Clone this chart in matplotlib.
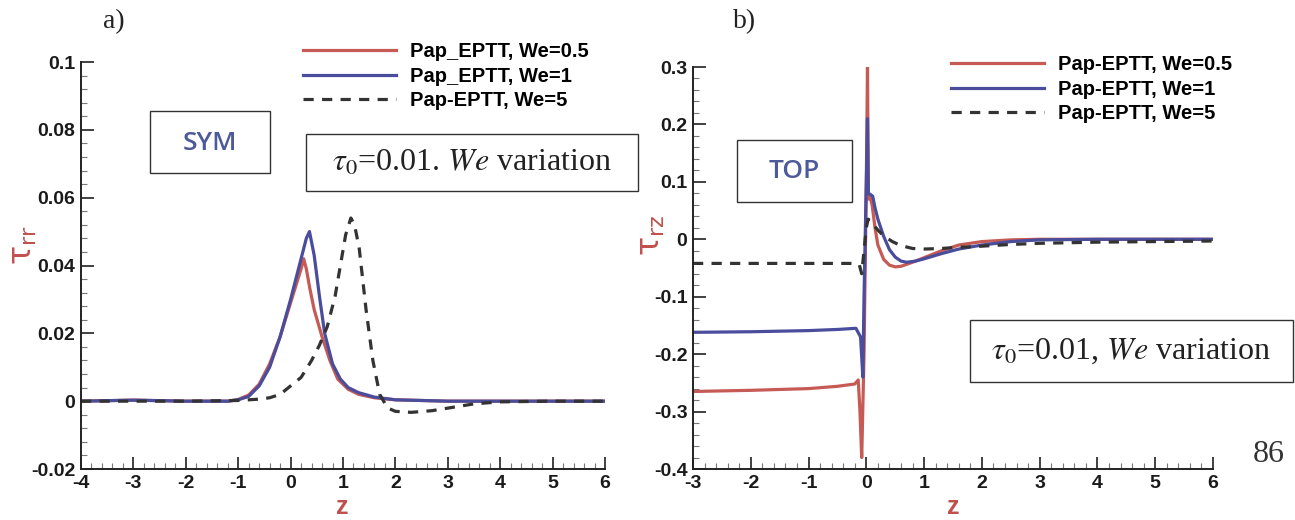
import matplotlib
matplotlib.use("Agg")
import matplotlib.pyplot as plt
from matplotlib.patches import Rectangle
from matplotlib.ticker import AutoMinorLocator, FixedLocator

# ---- panel a: tau_rr along SYM line ----
za_05 = [-4, -3, -2, -1.2, -1.0, -0.8, -0.6, -0.4, -0.2, 0.0, 0.1, 0.2, 0.25, 0.3, 0.37,
         0.45, 0.6, 0.75, 0.9, 1.1, 1.3, 1.6, 2.0, 3, 4, 5, 6]
ta_05 = [0, 0.0003, 0, 0, 0.0005, 0.0018, 0.005, 0.011, 0.019, 0.029, 0.034, 0.039, 0.042,
         0.039, 0.033, 0.027, 0.019, 0.012, 0.0065, 0.0035, 0.002, 0.001, 0.0004, 0, 0, 0, 0]

za_1 = [-4, -3, -2, -1.2, -1.0, -0.8, -0.6, -0.4, -0.2, 0.0, 0.1, 0.2, 0.3, 0.36, 0.45, 0.55,
        0.65, 0.8, 0.95, 1.1, 1.3, 1.6, 2.0, 3, 4, 5, 6]
ta_1 = [0, 0.0003, 0, 0, 0.0004, 0.0014, 0.0045, 0.010, 0.019, 0.030, 0.036, 0.042, 0.048,
        0.050, 0.043, 0.031, 0.020, 0.011, 0.0065, 0.004, 0.0025, 0.0012, 0.0004, 0, 0, 0, 0]

za_5 = [-4, -3, -2, -1, -0.6, -0.4, -0.2, 0.0, 0.2, 0.4, 0.55, 0.7, 0.85, 0.95, 1.05, 1.15,
        1.22, 1.31, 1.44, 1.57, 1.70, 1.85, 2.0, 2.3, 2.7, 3.1, 3.5, 4, 5, 6]
ta_5 = [0, 0, 0, 0.0002, 0.0006, 0.001, 0.002, 0.0045, 0.007, 0.012, 0.0165, 0.022, 0.031,
        0.040, 0.049, 0.054, 0.052, 0.045, 0.027, 0.012, 0.002, -0.002, -0.003, -0.0033,
        -0.0028, -0.0018, -0.0008, -0.0002, 0, 0]

# ---- panel b: tau_rz along TOP line ----
zb_05 = [-3, -2, -1, -0.5, -0.2, -0.14, -0.11, -0.08, -0.04, 0.0, 0.02, 0.035, 0.06, 0.1,
         0.15, 0.2, 0.3, 0.4, 0.5, 0.6, 0.8, 1.0, 1.3, 1.6, 2.0, 2.5, 3, 4, 5, 6]
tb_05 = [-0.265, -0.263, -0.26, -0.256, -0.252, -0.245, -0.30, -0.38, -0.2, 0.1, 0.30, 0.07,
         0.075, 0.06, 0.02, -0.01, -0.035, -0.045, -0.048, -0.047, -0.040, -0.032, -0.020,
         -0.010, -0.004, -0.001, 0, 0, 0, 0]

zb_1 = [-3, -2, -1, -0.5, -0.18, -0.1, -0.06, -0.04, 0.0, 0.02, 0.035, 0.07, 0.11, 0.15, 0.2,
        0.3, 0.4, 0.5, 0.6, 0.7, 0.85, 1.0, 1.3, 1.6, 2.0, 2.5, 3, 4, 5, 6]
tb_1 = [-0.162, -0.161, -0.159, -0.157, -0.155, -0.17, -0.24, -0.1, 0.1, 0.21, 0.08, 0.078,
        0.075, 0.055, 0.035, 0.005, -0.018, -0.031, -0.038, -0.04, -0.038, -0.034, -0.025,
        -0.017, -0.010, -0.004, -0.001, 0, 0, 0]

zb_5 = [-3, -2, -1, -0.5, -0.2, -0.12, -0.08, -0.04, 0.0, 0.03, 0.06, 0.1, 0.2, 0.3, 0.45,
        0.6, 0.8, 1.0, 1.3, 1.6, 2.0, 2.5, 3, 4, 5, 6]
tb_5 = [-0.042, -0.042, -0.042, -0.042, -0.042, -0.045, -0.06, -0.02, 0.02, 0.035, 0.033,
        0.028, 0.016, 0.006, -0.004, -0.011, -0.016, -0.017, -0.016, -0.014, -0.012, -0.009,
        -0.007, -0.005, -0.004, -0.003]

xticks_a = [-4, -3, -2, -1, 0, 1, 2, 3, 4, 5, 6]
yticks_a = [-0.02, 0, 0.02, 0.04, 0.06, 0.08, 0.1]
ylabels_a = ["-0.02", "0", "0.02", "0.04", "0.06", "0.08", "0.1"]
xticks_b = [-3, -2, -1, 0, 1, 2, 3, 4, 5, 6]
yticks_b = [-0.4, -0.3, -0.2, -0.1, 0, 0.1, 0.2, 0.3]
ylabels_b = ["-0.4", "-0.3", "-0.2", "-0.1", "0", "0.1", "0.2", "0.3"]

labels_a = ["Pap_EPTT, We=0.5", "Pap_EPTT, We=1", "Pap-EPTT, We=5"]
labels_b = ["Pap-EPTT, We=0.5", "Pap-EPTT, We=1", "Pap-EPTT, We=5"]

RED = "#c65a55"
BLUE = "#4a4c9c"
DASH = "#333333"
LABEL_RED = "#c0504d"
TAG_BLUE = "#4d5a9a"

plt.rcParams["font.family"] = ["Liberation Sans", "DejaVu Sans"]
plt.rcParams["mathtext.fontset"] = "stix"

W, H = 1295, 520
fig = plt.figure(figsize=(W / 100, H / 100), dpi=100)


def px_rect(x0, y0, x1, y1):
    # pixel box (top-left origin) -> figure fraction [l, b, w, h]
    return [x0 / W, 1 - y1 / H, (x1 - x0) / W, (y1 - y0) / H]


def style_axes(ax, xt, yt, yl, xlim, ylim):
    ax.set_xlim(*xlim)
    ax.set_ylim(*ylim)
    ax.spines["top"].set_visible(False)
    ax.spines["right"].set_visible(False)
    for s in ("left", "bottom"):
        ax.spines[s].set_linewidth(1.4)
        ax.spines[s].set_color("#222222")
    ax.xaxis.set_major_locator(FixedLocator(xt))
    ax.yaxis.set_major_locator(FixedLocator(yt))
    ax.set_yticklabels(yl)
    ax.set_xticklabels([str(v) for v in xt])
    ax.xaxis.set_minor_locator(AutoMinorLocator(5))
    ax.yaxis.set_minor_locator(AutoMinorLocator(5))
    ax.tick_params(which="major", direction="in", length=9, width=1.3, color="#333333",
                   labelsize=14, pad=4)
    ax.tick_params(which="minor", direction="in", length=4, width=0.8, color="#777777")
    for lab in ax.get_xticklabels() + ax.get_yticklabels():
        lab.set_fontweight("bold")
        lab.set_color("#1a1a1a")


def box(x0, y0, x1, y1):
    fig.patches.append(Rectangle((x0 / W, 1 - y1 / H), (x1 - x0) / W, (y1 - y0) / H,
                                 transform=fig.transFigure, fill=False,
                                 edgecolor="#333333", linewidth=1.0))


def put(x, y, s, **kw):
    fig.text(x / W, 1 - y / H, s, **kw)


lw = 2.3
dash = (0, (3.2, 2.6))
leg_kw = dict(bbox_transform=fig.transFigure, frameon=False, borderpad=0, borderaxespad=0,
              handlelength=4.6, handletextpad=0.7, labelspacing=0.28,
              prop={"size": 14.5, "weight": "bold"}, loc="upper left")

# panel a
ax1 = fig.add_axes(px_rect(81, 62, 605, 469))
ax1.plot(za_05, ta_05, color=RED, lw=lw, label=labels_a[0])
ax1.plot(za_1, ta_1, color=BLUE, lw=lw, label=labels_a[1])
ax1.plot(za_5, ta_5, color=DASH, lw=lw, linestyle=dash, label=labels_a[2])
style_axes(ax1, xticks_a, yticks_a, ylabels_a, (-4, 6), (-0.02, 0.1))
ax1.legend(bbox_to_anchor=(303 / W, 1 - 42 / H), **leg_kw)

# panel b
ax2 = fig.add_axes(px_rect(693, 67, 1213, 469))
ax2.plot(zb_05, tb_05, color=RED, lw=lw, label=labels_b[0])
ax2.plot(zb_1, tb_1, color=BLUE, lw=lw, label=labels_b[1])
ax2.plot(zb_5, tb_5, color=DASH, lw=lw, linestyle=dash, label=labels_b[2])
style_axes(ax2, xticks_b, yticks_b, ylabels_b, (-3, 6), (-0.4, 0.3))
ax2.legend(bbox_to_anchor=(951 / W, 1 - 55 / H), **leg_kw)

# axis labels
put(342, 507, "z", color=LABEL_RED, fontsize=18, fontweight="bold", ha="center", va="center")
put(953, 507, "z", color=LABEL_RED, fontsize=18, fontweight="bold", ha="center", va="center")
put(24, 245, r"$\mathrm{\tau}_{\mathrm{rr}}$", color=LABEL_RED, fontsize=23, rotation=90,
    ha="center", va="center", math_fontfamily="dejavusans")
put(652, 235, r"$\mathrm{\tau}_{\mathrm{rz}}$", color=LABEL_RED, fontsize=23, rotation=90,
    ha="center", va="center", math_fontfamily="dejavusans")

# panel tags
put(114, 22, "a)", family="Liberation Serif", fontsize=20, ha="center", va="center",
    color="#222222")
put(745, 22, "b)", family="Liberation Serif", fontsize=20, ha="center", va="center",
    color="#222222")

# annotation boxes
box(150, 111, 270, 173)
put(210, 143, "SYM", family="Open Sans", fontsize=19, fontweight="semibold",
    color=TAG_BLUE, ha="center", va="center")
box(737, 140, 852, 202)
put(794, 172, "TOP", family="Open Sans", fontsize=19, fontweight="semibold",
    color=TAG_BLUE, ha="center", va="center")

box(306, 134, 638, 191)
put(472, 163, r"$\tau_0$=0.01. $\mathit{We}$ variation", family="Liberation Serif",
    fontsize=23, ha="center", va="center", color="#222222")
box(970, 320, 1293, 382)
put(1131, 351, r"$\tau_0$=0.01, $\mathit{We}$ variation", family="Liberation Serif",
    fontsize=23, ha="center", va="center", color="#222222")

put(1269, 455, "86", family="Liberation Serif", fontsize=23, ha="center", va="center",
    color="#333333")

fig.savefig("out.png", dpi=100)
